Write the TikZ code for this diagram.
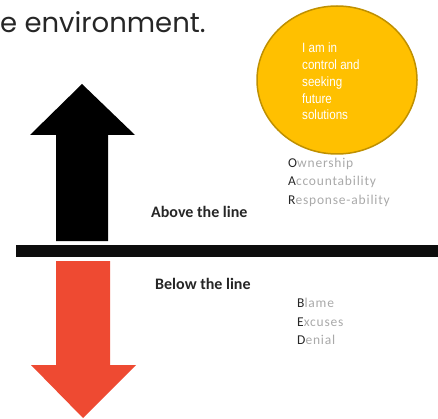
\documentclass[tikz,border=0pt]{standalone}
\usepackage{fontspec}
\setmainfont{Carlito}
\newfontfamily\titlefont{Poppins}
\newfontfamily\narrowfont[FakeStretch=0.86]{Liberation Sans}
\usepackage{tikz}
\usetikzlibrary{shapes.geometric}

\definecolor{goldfill}{HTML}{FFC000}
\definecolor{golddraw}{HTML}{BF9000}
\definecolor{downred}{HTML}{EE4A32}
\definecolor{barblack}{HTML}{0D0D0D}
\definecolor{softgrey}{HTML}{A9A9A9}
\definecolor{initial}{HTML}{262626}

\newcommand{\firstletter}[2]{\textcolor{initial}{#1}#2}

\begin{document}
\begin{tikzpicture}[x=1pt,y=-1pt,
    tag/.style={anchor=base west,inner sep=0pt,text=initial,
      font=\fontsize{16}{19}\selectfont\bfseries},
    word/.style={anchor=base west,inner sep=0pt,text=softgrey,
      font=\fontsize{13.5}{16}\selectfont\addfontfeature{LetterSpace=6}}]
  \useasboundingbox (0,0) rectangle (438,419);

  % heading cut at the left
  \node[anchor=base west,inner sep=0pt,text=initial,
        font=\titlefont\fontsize{27.5}{32}\selectfont] (title) at (0,33) {e environment.};

  % arrows and the line
  \fill[black] (56,241) -- (56,135) -- (30,135) -- (82,84)
               -- (135,135) -- (108,135) -- (108,241) -- cycle;
  \fill[downred] (56,261) -- (56,365) -- (31,365) -- (83,418)
                 -- (136,365) -- (110,365) -- (110,261) -- cycle;
  \fill[barblack] (16,245) rectangle (438,257);

  % the circle
  \node[ellipse,draw=golddraw,fill=goldfill,line width=1.5pt,
        minimum width=160,minimum height=148] (goal) at (337,80) {};
  \node[anchor=north west,inner sep=0pt,align=left,text=white,
        font=\narrowfont\fontsize{13.5}{16.75}\selectfont] (goaltext) at (302,43)
        {I am in\\control and\\seeking\\future\\solutions};

  \node[tag] (above) at (151,218) {Above the line};
  \node[tag] (below) at (155,289) {Below the line};

  \node[word] (own) at (288,167.5) {\firstletter{O}{wnership}};
  \node[word] (acc) at (288,186) {\firstletter{A}{ccountability}};
  \node[word] (resp) at (288,204.5) {\firstletter{R}{esponse-ability}};

  \node[word] (blame) at (297,307.5) {\firstletter{B}{lame}};
  \node[word] (exc) at (297,326) {\firstletter{E}{xcuses}};
  \node[word] (den) at (297,344.5) {\firstletter{D}{enial}};
\end{tikzpicture}
\end{document}
